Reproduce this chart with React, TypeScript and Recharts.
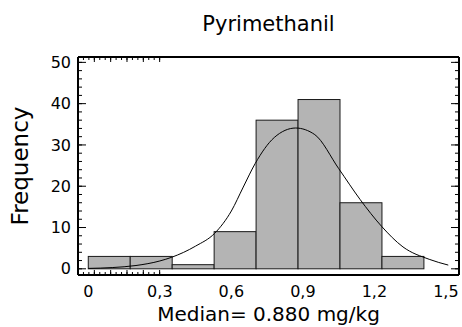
import React from 'react';
import { ComposedChart, Bar, Line, XAxis, YAxis } from 'recharts';

// Histogram bins (centres) and frequencies
const binCenters = [0.088, 0.264, 0.44, 0.616, 0.792, 0.968, 1.144, 1.32];
const binCounts = [3, 3, 1, 9, 36, 41, 16, 3];
const BIN_WIDTH = 0.176;

// Fitted density curve
const curveX = [0, 0.1, 0.2, 0.3, 0.35, 0.45, 0.53, 0.6, 0.65, 0.7, 0.78, 0.87, 0.95, 1.05, 1.14, 1.23, 1.32, 1.43, 1.51];
const curveY = [0.1, 0.3, 0.8, 1.9, 2.8, 5.5, 8.6, 14.0, 19.8, 25.5, 31.8, 34.1, 32.5, 24.3, 16.8, 10.3, 5.3, 2.3, 0.9];

// Ticks
const xMajorTicks = [0, 0.3, 0.6, 0.9, 1.2, 1.5];
const xMinorTicks = [0, 0.1, 0.2, 0.3, 0.4, 0.5, 0.6, 0.7, 0.8, 0.9, 1.0, 1.1, 1.2, 1.3, 1.4, 1.5];
const yMajorTicks = [0, 10, 20, 30, 40, 50];
const yMinorTicks = [0, 2, 4, 6, 8, 10, 12, 14, 16, 18, 20, 22, 24, 26, 28, 30, 32, 34, 36, 38, 40, 42, 44, 46, 48, 50];

const title = 'Pyrimethanil';
const xTitle = 'Median= 0.880 mg/kg';
const yTitle = 'Frequency';

const WIDTH = 462;
const HEIGHT = 327;
const MARGIN = { top: 57, right: 3, bottom: 52, left: 78 };
const X_DOMAIN: [number, number] = [-0.0433, 1.555];
const Y_DOMAIN: [number, number] = [-1.5, 51.3];
const PLOT_W = WIDTH - MARGIN.left - MARGIN.right;
const BAR_SIZE = (BIN_WIDTH * PLOT_W) / (X_DOMAIN[1] - X_DOMAIN[0]);
const THIN = 0.001;

const FONT = '"DejaVu Sans", Verdana, sans-serif';

const barData = binCenters.map((x, i) => ({ x, count: binCounts[i] }));
const curveData = curveX.map((x, i) => ({ x, y: curveY[i] }));

const fmtX = (v: number) => String(v).replace('.', ',');

const TitleLabel = (props: any) => {
  const vb = props.viewBox || {};
  return (
    <text x={vb.x + vb.width / 2} y={vb.y - 26} textAnchor="middle" fontFamily={FONT} fontSize={21} fill="#000">
      {title}
    </text>
  );
};

const XTitleLabel = (props: any) => {
  const vb = props.viewBox || {};
  return (
    <text x={vb.x + vb.width / 2} y={vb.y + 46} textAnchor="middle" fontFamily={FONT} fontSize={20} fill="#000">
      {xTitle}
    </text>
  );
};

const YTitleLabel = (props: any) => {
  const vb = props.viewBox || {};
  const cx = vb.x + vb.width - 49.5;
  const cy = vb.y + vb.height / 2;
  return (
    <text x={cx} y={cy} transform={`rotate(-90, ${cx}, ${cy})`} textAnchor="middle" fontFamily={FONT} fontSize={23} fill="#000">
      {yTitle}
    </text>
  );
};

const HistRect = (p: any) => {
  if (p.x == null || p.width == null) return null;
  const cx = p.x + p.width / 2;
  return (
    <rect x={cx - BAR_SIZE / 2} y={p.y} width={BAR_SIZE} height={p.height} fill="#b4b4b4" stroke="#1a1a1a" strokeWidth={1} />
  );
};

const NoLabel = () => <g />;

const frame = { stroke: '#000', strokeWidth: 2 };
const tickLineStyle = { stroke: '#000', strokeWidth: 1 };
const tickStyle = { fontFamily: FONT, fontSize: 16, fill: '#000' };

export default function App() {
  return (
    <div style={{ position: 'absolute', left: 0, top: 0, width: WIDTH, height: HEIGHT, background: '#fff' }}>
      <ComposedChart width={WIDTH} height={HEIGHT} data={barData} margin={MARGIN}>
        {/* bottom: labels + frame */}
        <XAxis xAxisId="x" dataKey="x" type="number" domain={X_DOMAIN} allowDataOverflow ticks={xMajorTicks}
          interval={0} height={THIN} tickLine={false} tickSize={0} tickMargin={11} axisLine={frame}
          tickFormatter={fmtX} tick={tickStyle} stroke="#000" label={<XTitleLabel />} />
        <XAxis xAxisId="xb1" type="number" domain={X_DOMAIN} allowDataOverflow ticks={xMajorTicks} interval={0}
          height={THIN} mirror tick={NoLabel} tickLine={tickLineStyle} tickSize={5} axisLine={false} stroke="#000" />
        <XAxis xAxisId="xb2" type="number" domain={X_DOMAIN} allowDataOverflow ticks={xMinorTicks} interval={0}
          height={THIN} mirror tick={NoLabel} tickLine={tickLineStyle} tickSize={3} axisLine={false} stroke="#000" />
        {/* top */}
        <XAxis xAxisId="xt1" orientation="top" type="number" domain={X_DOMAIN} allowDataOverflow ticks={xMajorTicks}
          interval={0} height={THIN} mirror tick={NoLabel} tickLine={tickLineStyle} tickSize={5} axisLine={frame}
          stroke="#000" label={<TitleLabel />} />
        <XAxis xAxisId="xt2" orientation="top" type="number" domain={X_DOMAIN} allowDataOverflow ticks={xMinorTicks}
          interval={0} height={THIN} mirror tick={NoLabel} tickLine={tickLineStyle} tickSize={3} axisLine={false} stroke="#000" />
        {/* left: labels + frame */}
        <YAxis yAxisId="y" type="number" domain={Y_DOMAIN} allowDataOverflow ticks={yMajorTicks} interval={0}
          width={THIN} tickLine={false} tickSize={0} tickMargin={7} axisLine={frame} tick={tickStyle} stroke="#000"
          label={<YTitleLabel />} />
        <YAxis yAxisId="yl1" type="number" domain={Y_DOMAIN} allowDataOverflow ticks={yMajorTicks} interval={0}
          width={THIN} mirror tick={NoLabel} tickLine={tickLineStyle} tickSize={8} axisLine={false} stroke="#000" />
        <YAxis yAxisId="yl2" type="number" domain={Y_DOMAIN} allowDataOverflow ticks={yMinorTicks} interval={0}
          width={THIN} mirror tick={NoLabel} tickLine={tickLineStyle} tickSize={4} axisLine={false} stroke="#000" />
        {/* right */}
        <YAxis yAxisId="yr1" orientation="right" type="number" domain={Y_DOMAIN} allowDataOverflow ticks={yMajorTicks}
          interval={0} width={THIN} mirror tick={NoLabel} tickLine={tickLineStyle} tickSize={8} axisLine={frame} stroke="#000" />
        <YAxis yAxisId="yr2" orientation="right" type="number" domain={Y_DOMAIN} allowDataOverflow ticks={yMinorTicks}
          interval={0} width={THIN} mirror tick={NoLabel} tickLine={tickLineStyle} tickSize={4} axisLine={false} stroke="#000" />

        <Bar xAxisId="x" yAxisId="y" dataKey="count" barSize={BAR_SIZE} fill="#b4b4b4" stroke="#1a1a1a"
          strokeWidth={1} shape={HistRect} isAnimationActive={false} />
        <Line xAxisId="x" yAxisId="y" data={curveData} dataKey="y" type="monotone" stroke="#000" strokeWidth={1}
          dot={false} activeDot={false} isAnimationActive={false} />
      </ComposedChart>
    </div>
  );
}
